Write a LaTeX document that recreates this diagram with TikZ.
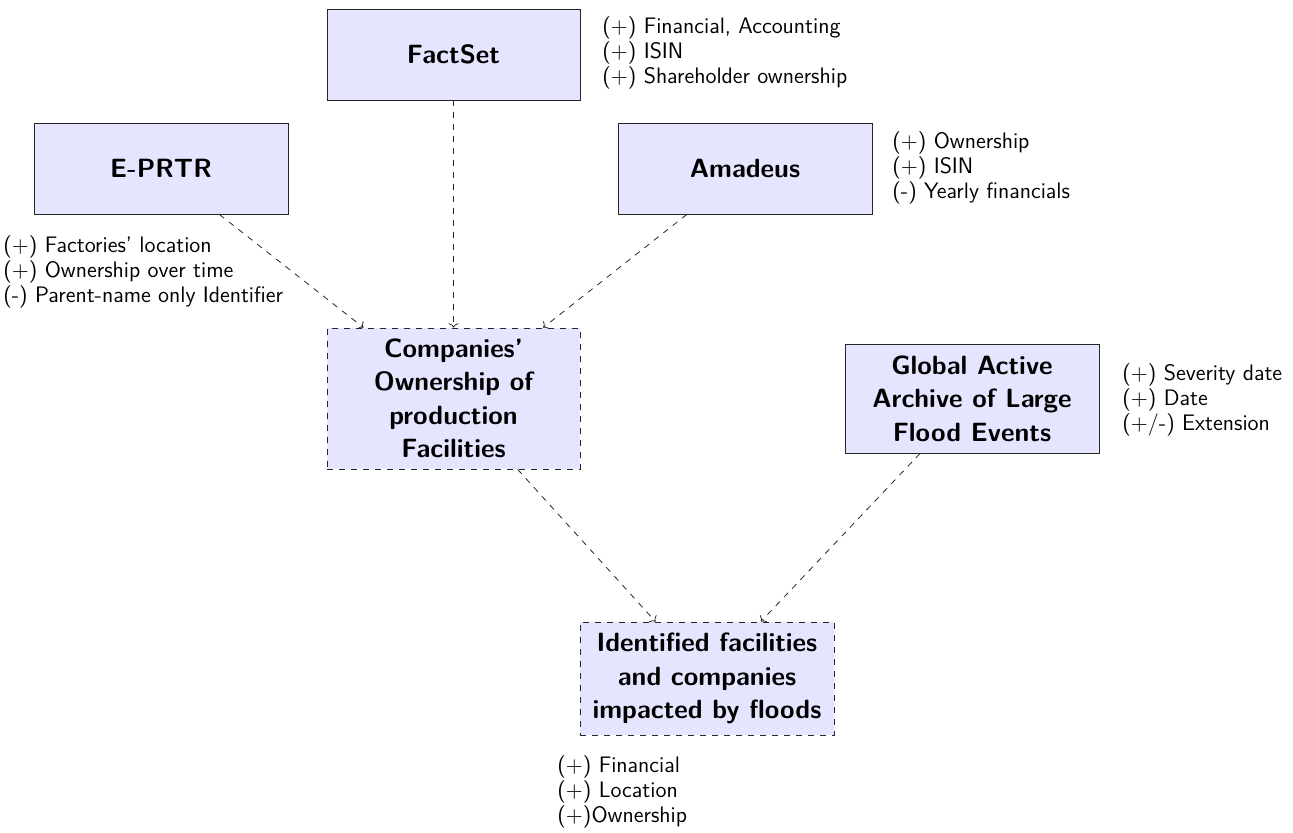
\documentclass[tikz,border=0pt]{standalone}
\usetikzlibrary{arrows.meta}
\begin{document}
\begin{tikzpicture}[x=0.5pt,y=-0.5pt,
  src/.style={draw=black!85, fill=blue!10, rectangle, align=center, inner sep=0pt,
    font=\sffamily\bfseries\fontsize{13.2}{16.7}\selectfont},
  derived/.style={src, dashed},
  note/.style={anchor=west, align=left, inner sep=0pt,
    font=\sffamily\fontsize{11.2}{12.6}\selectfont},
  link/.style={-{To[length=2.2pt,width=5pt]}, dashed, black!85}]
\useasboundingbox (0,0) rectangle (1293,832);
\node[src, minimum width=126.5pt, minimum height=45.5pt] (fact) at (453.5,54.5) {FactSet};
\node[src, minimum width=127pt, minimum height=45.5pt] (eprtr) at (161,168.5) {E-PRTR};
\node[src, minimum width=127pt, minimum height=45.5pt] (amad) at (745,168.5) {Amadeus};
\node[derived, minimum width=126.5pt, minimum height=70.5pt] (comp) at (453.5,398.5) {Companies'\\Ownership of\\production\\Facilities};
\node[src, minimum width=127pt, minimum height=54.5pt] (glob) at (972,398.5) {Global Active\\Archive of Large\\Flood Events};
\node[derived, minimum width=127pt, minimum height=56.5pt] (ident) at (707,678.5) {Identified facilities\\and companies\\impacted by floods};

\node[note] (nfact) at (602,53) {($+$) Financial, Accounting\\($+$) ISIN\\($+$) Shareholder ownership};
\node[note] (namad) at (892,168) {($+$) Ownership\\($+$) ISIN\\(-) Yearly financials};
\node[note] (neprtr) at (3,272) {($+$) Factories' location\\($+$) Ownership over time\\(-) Parent-name only Identifier};
\node[note] (nglob) at (1122,400) {($+$) Severity date\\($+$) Date\\($+$/-) Extension};
\node[note] (nident) at (557,792) {($+$) Financial\\($+$) Location\\($+$)Ownership};

\draw[link] (eprtr) -- (comp);
\draw[link] (fact) -- (comp);
\draw[link] (amad) -- (comp);
\draw[link] (comp) -- (ident);
\draw[link] (glob) -- (ident);
\end{tikzpicture}
\end{document}
